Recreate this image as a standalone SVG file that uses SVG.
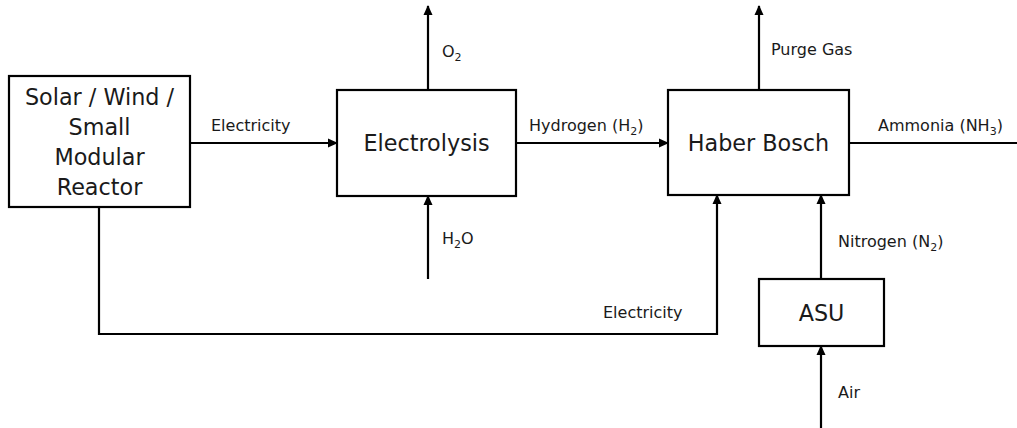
<svg xmlns="http://www.w3.org/2000/svg" width="1017" height="428" viewBox="0 0 1017 428">
<style>
.box{fill:#fff;stroke:#000;stroke-width:2.2}
.bt{font-family:"DejaVu Sans",sans-serif;font-size:22.3px;fill:#1a1a1a;text-anchor:middle}
.lb{font-family:"DejaVu Sans",sans-serif;font-size:16px;fill:#1a1a1a}
.sub{font-size:11px}
.cn{fill:none;stroke:#000;stroke-width:2.2}
</style>
<defs>
<marker id="ah" markerUnits="userSpaceOnUse" markerWidth="10" markerHeight="10" viewBox="0 0 10 10" refX="9" refY="5" orient="auto">
<path d="M0,0.5 L10,5 L0,9.5 Z" fill="#000"/>
</marker>
</defs>
<rect width="1017" height="428" fill="#fff"/>
<g id="connectors">
<line class="cn" x1="190" y1="143" x2="337" y2="143" marker-end="url(#ah)"/>
<line class="cn" x1="428" y1="90" x2="428" y2="6" marker-end="url(#ah)"/>
<line class="cn" x1="428" y1="279" x2="428" y2="196" marker-end="url(#ah)"/>
<line class="cn" x1="516" y1="143" x2="668" y2="143" marker-end="url(#ah)"/>
<line class="cn" x1="759" y1="90" x2="759" y2="6" marker-end="url(#ah)"/>
<line class="cn" x1="849" y1="143" x2="1017" y2="143"/>
<path class="cn" d="M99,207 V334 H717 V195" marker-end="url(#ah)"/>
<line class="cn" x1="821" y1="279" x2="821" y2="195" marker-end="url(#ah)"/>
<line class="cn" x1="821" y1="428" x2="821" y2="346" marker-end="url(#ah)"/>
<text class="lb" x="211" y="131">Electricity</text>
<text class="lb" x="442" y="57">O<tspan class="sub" dy="4">2</tspan></text>
<text class="lb" x="442" y="244">H<tspan class="sub" dy="4">2</tspan><tspan dy="-4">O</tspan></text>
<text class="lb" x="529" y="131">Hydrogen (H<tspan class="sub" dy="4">2</tspan><tspan dy="-4">)</tspan></text>
<text class="lb" x="771" y="55">Purge Gas</text>
<text class="lb" x="878" y="131">Ammonia (NH<tspan class="sub" dy="4">3</tspan><tspan dy="-4">)</tspan></text>
<text class="lb" x="838" y="247">Nitrogen (N<tspan class="sub" dy="4">2</tspan><tspan dy="-4">)</tspan></text>
<text class="lb" x="603" y="318">Electricity</text>
<text class="lb" x="838" y="398">Air</text>
</g>
<g id="source">
<rect class="box" x="9" y="76" width="181" height="131"/>
<text class="bt" x="99.5" y="105">Solar / Wind /</text>
<text class="bt" x="99.5" y="135">Small</text>
<text class="bt" x="99.5" y="165">Modular</text>
<text class="bt" x="99.5" y="195">Reactor</text>
</g>
<g id="electrolysis">
<rect class="box" x="337" y="90" width="179" height="106"/>
<text class="bt" x="426.5" y="151">Electrolysis</text>
</g>
<g id="haber-bosch">
<rect class="box" x="668" y="90" width="181" height="105"/>
<text class="bt" x="758.5" y="151">Haber Bosch</text>
</g>
<g id="asu">
<rect class="box" x="759" y="279" width="125" height="67"/>
<text class="bt" x="821.5" y="321">ASU</text>
</g>
</svg>
